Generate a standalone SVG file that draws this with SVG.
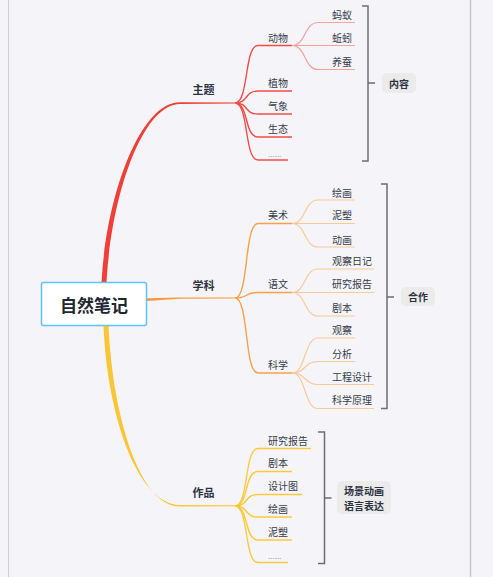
<svg xmlns="http://www.w3.org/2000/svg" width="493" height="577" viewBox="0 0 493 577">
<style>
  .t{font-family:"Noto Sans CJK SC","Noto Sans",sans-serif;font-size:10px;fill:#363b4a;dominant-baseline:central}
  .dots{fill:#9a9aa6;font-size:8px}
  .m{font-family:"Noto Sans CJK SC","Noto Sans",sans-serif;font-size:11px;font-weight:bold;fill:#2d3242;text-anchor:middle;dominant-baseline:central}
  .lb{font-family:"Noto Sans CJK SC","Noto Sans",sans-serif;font-size:10px;font-weight:bold;fill:#2d3242;text-anchor:middle;dominant-baseline:central}
  .box{fill:#ebebeb}
  .br{fill:none;stroke:#6e6e6e;stroke-width:1.5}
  .r2{fill:none;stroke:#f34c47;stroke-width:1.4}
  .r3{fill:none;stroke:#f7a09c;stroke-width:1.2}
  .o2{fill:none;stroke:#f9a04a;stroke-width:1.4}
  .o3{fill:none;stroke:#fcc896;stroke-width:1.2}
  .y2{fill:none;stroke:#fcc93c;stroke-width:1.4}
</style>
<rect width="493" height="577" fill="#f5f5f9"/>
<line x1="8.5" y1="0" x2="8.5" y2="577" stroke="#cfcfd3" stroke-width="1"/>
<line x1="470.5" y1="0" x2="470.5" y2="577" stroke="#c9c9cd" stroke-width="1.5"/>

<g id="connectors">
  <!-- main branches -->
  <path d="M101.5,283 C105.5,200 139,101.8 180,102.3 L235,102.6 L235,103.6 L180,103.9 C141,104.3 110.5,200 106.5,283 Z" fill="#ef3f36"/>
  <path d="M147,298.3 L180,297.6 L235,297.4 L235,298.5 L180,298.8 L147,301 Z" fill="#f79a3e"/>
  <path d="M103.5,326 C107.5,420 139,504.6 180,505 L235,505.3 L235,506.3 L180,506.5 C141,507 113,420 108.5,326 Z" fill="#fcc534"/>

  <!-- red level 2 -->
  <path class="r2" d="M235,103 C249,103 244,45.5 258,45.5 L292,45.5"/>
  <path class="r2" d="M235,103 C249,103 244,91 258,91 L292,91"/>
  <path class="r2" d="M235,103 C249,103 244,114 258,114 L292,114"/>
  <path class="r2" d="M235,103 C249,103 244,137 258,137 L292,137"/>
  <path class="r2" d="M235,103 C249,103 244,160 258,160 L288,160"/>
  <!-- red level 3 -->
  <path class="r3" d="M292,45.5 C306,45.5 304,22.5 318,22.5 L355,22.5"/>
  <path class="r3" d="M292,45.5 L355,45.5"/>
  <path class="r3" d="M292,45.5 C306,45.5 304,69.5 318,69.5 L355,69.5"/>

  <!-- orange level 2 -->
  <path class="o2" d="M235,298 C249,298 244,223.5 258,223.5 L292,223.5"/>
  <path class="o2" d="M235,298 C249,298 244,292.5 258,292.5 L292,292.5"/>
  <path class="o2" d="M235,298 C249,298 244,373 258,373 L292,373"/>
  <!-- orange level 3 -->
  <path class="o3" d="M292,223.5 C306,223.5 304,200 318,200 L355,200"/>
  <path class="o3" d="M292,223.5 L355,223.5"/>
  <path class="o3" d="M292,223.5 C306,223.5 304,247 318,247 L355,247"/>
  <path class="o3" d="M292,292.5 C306,292.5 304,269 318,269 L374,269"/>
  <path class="o3" d="M292,292.5 L374,292.5"/>
  <path class="o3" d="M292,292.5 C306,292.5 304,316 318,316 L355,316"/>
  <path class="o3" d="M292,373 C306,373 304,338 318,338 L355,338"/>
  <path class="o3" d="M292,373 C306,373 304,361.5 318,361.5 L355,361.5"/>
  <path class="o3" d="M292,373 C306,373 304,384.5 318,384.5 L374,384.5"/>
  <path class="o3" d="M292,373 C306,373 304,408.5 318,408.5 L374,408.5"/>

  <!-- yellow level 2 -->
  <path class="y2" d="M235,506 C249,506 244,448.5 258,448.5 L311,448.5"/>
  <path class="y2" d="M235,506 C249,506 244,471.5 258,471.5 L292,471.5"/>
  <path class="y2" d="M235,506 C249,506 244,494.5 258,494.5 L302,494.5"/>
  <path class="y2" d="M235,506 C249,506 244,517 258,517 L292,517"/>
  <path class="y2" d="M235,506 C249,506 244,540 258,540 L292,540"/>
  <path class="y2" d="M235,506 C249,506 244,562.5 258,562.5 L288,562.5"/>

  <!-- brackets -->
  <path class="br" d="M362,6 H368 V161 H362 M368,83 H375"/>
  <path class="br" d="M381,184 H387 V408.5 H381 M387,297 H394"/>
  <path class="br" d="M318,432 H324.5 V563.5 H318 M324.5,498 H331.5"/>
</g>

<g id="root">
  <rect x="41.5" y="282.5" width="105" height="43" rx="2" fill="#ffffff" stroke="#62c4f5" stroke-width="1.5"/>
  <text x="94" y="304" font-family="Noto Sans CJK SC, sans-serif" font-size="17" font-weight="bold" fill="#222630" text-anchor="middle" dominant-baseline="central">自然笔记</text>
</g>

<g id="main-zhuti"><text class="m" x="203.5" y="89">主题</text></g>
<g id="main-xueke"><text class="m" x="203.5" y="285">学科</text></g>
<g id="main-zuopin"><text class="m" x="203.5" y="492">作品</text></g>

<g id="n-dongwu"><text class="t" x="268" y="37">动物</text></g>
<g id="n-zhiwu"><text class="t" x="268" y="82">植物</text></g>
<g id="n-qixiang"><text class="t" x="268" y="105">气象</text></g>
<g id="n-shengtai"><text class="t" x="268" y="128">生态</text></g>
<g id="n-dots1"><text class="t dots" x="268" y="153">......</text></g>
<g id="n-mayi"><text class="t" x="332" y="14">蚂蚁</text></g>
<g id="n-qiuyin"><text class="t" x="332" y="37">蚯蚓</text></g>
<g id="n-yangcan"><text class="t" x="332" y="61">养蚕</text></g>

<g id="n-meishu"><text class="t" x="268" y="214">美术</text></g>
<g id="n-yuwen"><text class="t" x="268" y="283">语文</text></g>
<g id="n-kexue"><text class="t" x="268" y="364">科学</text></g>
<g id="n-huihua1"><text class="t" x="332" y="192">绘画</text></g>
<g id="n-nisu1"><text class="t" x="332" y="214">泥塑</text></g>
<g id="n-donghua"><text class="t" x="332" y="239">动画</text></g>
<g id="n-guancharj"><text class="t" x="332" y="260">观察日记</text></g>
<g id="n-yanjiu1"><text class="t" x="332" y="283">研究报告</text></g>
<g id="n-juben1"><text class="t" x="332" y="307">剧本</text></g>
<g id="n-guancha"><text class="t" x="332" y="329">观察</text></g>
<g id="n-fenxi"><text class="t" x="332" y="353">分析</text></g>
<g id="n-gongcheng"><text class="t" x="332" y="376">工程设计</text></g>
<g id="n-yuanli"><text class="t" x="332" y="399">科学原理</text></g>

<g id="n-yanjiu2"><text class="t" x="268" y="440">研究报告</text></g>
<g id="n-juben2"><text class="t" x="268" y="462">剧本</text></g>
<g id="n-shejitu"><text class="t" x="268" y="485">设计图</text></g>
<g id="n-huihua2"><text class="t" x="268" y="508">绘画</text></g>
<g id="n-nisu2"><text class="t" x="268" y="531">泥塑</text></g>
<g id="n-dots2"><text class="t dots" x="268" y="555">......</text></g>

<g id="label-neirong">
  <rect class="box" x="382" y="73" width="34" height="20" rx="5"/>
  <text class="lb" x="399" y="83">内容</text>
</g>
<g id="label-hezuo">
  <rect class="box" x="401" y="287" width="34" height="19" rx="5"/>
  <text class="lb" x="418" y="296.5">合作</text>
</g>
<g id="label-changjing">
  <rect class="box" x="337" y="481" width="54" height="33" rx="5"/>
  <text class="lb" x="364" y="490">场景动画</text>
  <text class="lb" x="364" y="505">语言表达</text>
</g>
</svg>
